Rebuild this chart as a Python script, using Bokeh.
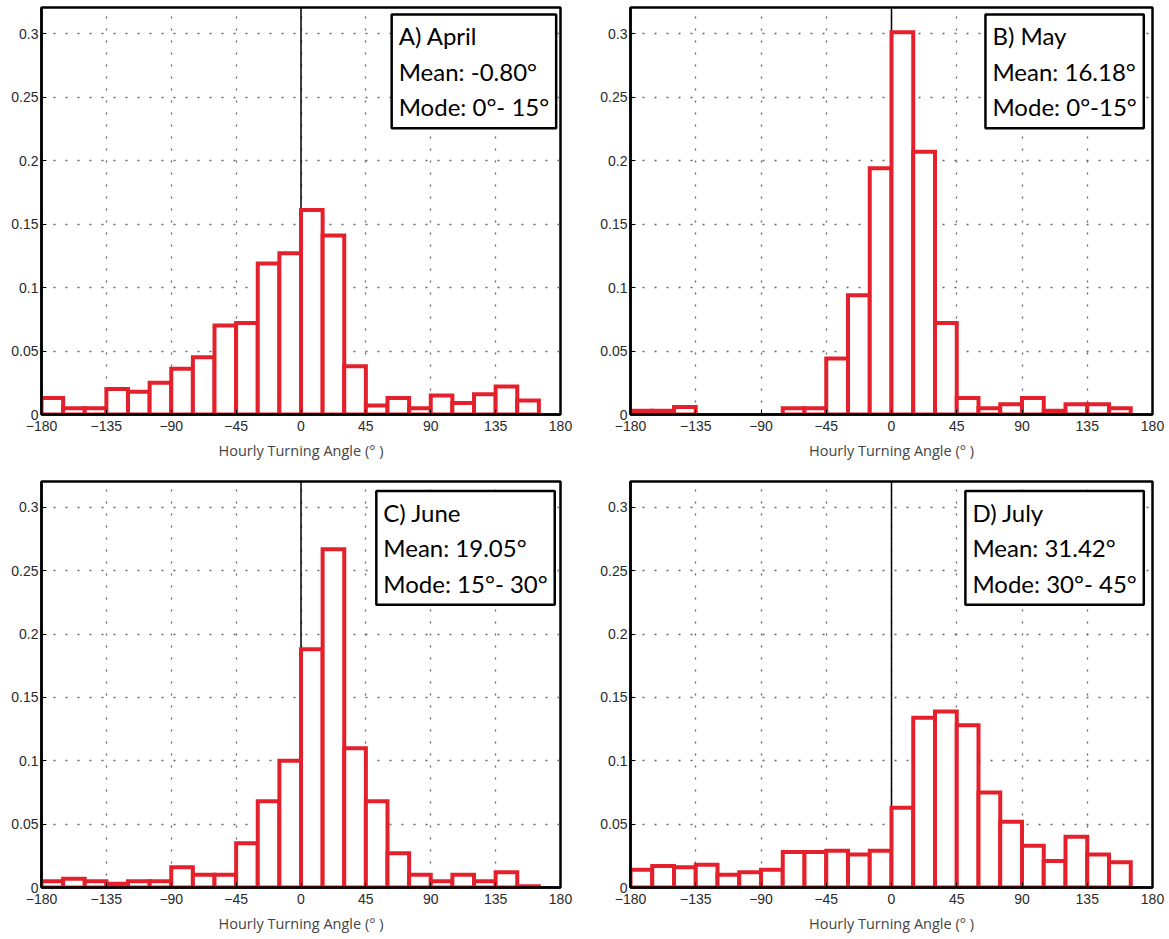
from bokeh.plotting import figure
from bokeh.layouts import gridplot
from bokeh.models import Span, Label, FixedTicker, Range1d
from bokeh.embed import file_html
from bokeh.resources import INLINE

# bin left edges (15 degree bins)
bin_left = [-180, -165, -150, -135, -120, -105, -90, -75, -60, -45, -30, -15,
            0, 15, 30, 45, 60, 75, 90, 105, 120, 135, 150]
bin_width = 15

april = [0.013, 0.005, 0.005, 0.020, 0.018, 0.025, 0.036, 0.045, 0.070, 0.072, 0.119, 0.127,
         0.161, 0.141, 0.038, 0.007, 0.013, 0.005, 0.015, 0.009, 0.016, 0.022, 0.011]
may = [0.003, 0.003, 0.006, 0.0, 0.0, 0.0, 0.0, 0.005, 0.005, 0.044, 0.094, 0.194,
       0.301, 0.207, 0.072, 0.013, 0.005, 0.008, 0.013, 0.003, 0.008, 0.008, 0.005]
june = [0.005, 0.007, 0.005, 0.003, 0.005, 0.005, 0.016, 0.010, 0.010, 0.035, 0.068, 0.100,
        0.188, 0.267, 0.110, 0.068, 0.027, 0.010, 0.005, 0.010, 0.005, 0.012, 0.001]
july = [0.014, 0.017, 0.016, 0.018, 0.010, 0.012, 0.014, 0.028, 0.028, 0.029, 0.026, 0.029,
        0.063, 0.134, 0.139, 0.128, 0.075, 0.052, 0.033, 0.021, 0.040, 0.026, 0.020]

panel_labels = [
    "A) April\nMean: -0.80°\nMode: 0°- 15°",
    "B) May\nMean: 16.18°\nMode: 0°-15°",
    "C) June\nMean: 19.05°\nMode: 15°- 30°",
    "D) July\nMean: 31.42°\nMode: 30°- 45°",
]

x_ticks = [-180, -135, -90, -45, 0, 45, 90, 135, 180]
x_tick_labels = {-180: "\u2212180", -135: "\u2212135", -90: "\u221290", -45: "\u221245",
                 0: "0", 45: "45", 90: "90", 135: "135", 180: "180"}
y_ticks = [0, 0.05, 0.1, 0.15, 0.2, 0.25, 0.3]
y_tick_labels = {0: "0", 0.05: "0.05", 0.1: "0.1", 0.15: "0.15", 0.2: "0.2", 0.25: "0.25", 0.3: "0.3"}

RED = "#e3202b"
FONT = "Lato"


def make_panel(values, text, width, height, bl, br, bt, bb, label_x, label_y):
    p = figure(width=width, height=height, output_backend="svg", toolbar_location=None,
               x_range=Range1d(-180, 180), y_range=Range1d(0, 0.3205),
               min_border_left=bl, min_border_right=br, min_border_top=bt, min_border_bottom=bb)
    p.background_fill_color = "white"
    p.border_fill_color = "white"
    p.outline_line_color = "black"
    p.outline_line_width = 2.5

    # axes
    p.xaxis.ticker = FixedTicker(ticks=x_ticks)
    p.xaxis.major_label_overrides = x_tick_labels
    p.yaxis.ticker = FixedTicker(ticks=y_ticks)
    p.yaxis.major_label_overrides = y_tick_labels
    for ax in (p.xaxis[0], p.yaxis[0]):
        ax.major_tick_in = 5
        ax.major_tick_out = 0
        ax.minor_tick_in = 0
        ax.minor_tick_out = 0
        ax.axis_line_color = "black"
        ax.axis_line_width = 2.5
        ax.major_tick_line_color = "black"
        ax.major_label_text_font = "Liberation Sans"
        ax.major_label_text_font_size = "14px"
        ax.major_label_text_color = "#2a2a2a"
    p.xaxis.major_label_standoff = 6
    p.yaxis.major_label_standoff = 3
    p.xaxis.axis_label = "Hourly Turning Angle (° )"
    p.xaxis.axis_label_text_font = "Open Sans"
    p.xaxis.axis_label_text_font_size = "14.5px"
    p.xaxis.axis_label_text_font_style = "normal"
    p.xaxis.axis_label_text_color = "#444444"
    p.xaxis.axis_label_standoff = 7

    # grid
    for g in (p.xgrid[0], p.ygrid[0]):
        g.grid_line_color = "#666666"
        g.grid_line_dash = "2 10"
        g.grid_line_width = 1.3
    p.xgrid.ticker = FixedTicker(ticks=x_ticks)
    p.ygrid.ticker = FixedTicker(ticks=y_ticks)

    # zero line under the bars
    p.add_layout(Span(location=0, dimension="height", line_color="black",
                      line_width=1.5, level="underlay"))

    lefts, rights, tops = [], [], []
    for l, v in zip(bin_left, values):
        if v > 0:
            lefts.append(l)
            rights.append(l + bin_width)
            tops.append(v)
    p.quad(left=lefts, right=rights, bottom=0, top=tops, fill_color="white",
           line_color=RED, line_width=4, line_join="miter")

    lab = Label(x=label_x, y=label_y, text=text, anchor="top_right",
                text_font=FONT, text_font_size="24px", text_color="black",
                text_line_height=1.22,
                border_line_color="black", border_line_width=2.5,
                background_fill_color="white", padding=7)
    p.add_layout(lab)
    return p


pA = make_panel(april, panel_labels[0], 589, 470, 41, 29, 7, 56, 177, 0.315)
pB = make_panel(may, panel_labels[1], 580, 470, 41, 17, 7, 56, 174, 0.315)
pC = make_panel(june, panel_labels[2], 589, 469, 41, 29, 11, 52, 176, 0.313)
pD = make_panel(july, panel_labels[3], 580, 469, 41, 17, 11, 52, 174, 0.313)

grid = gridplot([[pA, pB], [pC, pD]], toolbar_location=None)

open("out.html", "w").write(file_html(grid, INLINE))
